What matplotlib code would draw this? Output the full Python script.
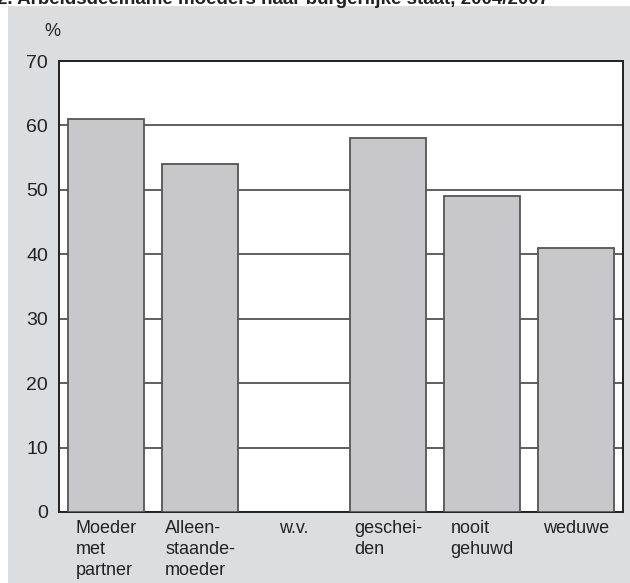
import matplotlib.pyplot as plt
import numpy as np
from matplotlib.patches import Rectangle

# Arbeidsdeelname moeders naar burgerlijke staat
categories = ['Moeder\nmet\npartner', 'Alleen-\nstaande-\nmoeder', 'w.v.',
              'geschei-\nden', 'nooit\ngehuwd', 'weduwe']
values = [61, 54, np.nan, 58, 49, 41]
yticks = [0, 10, 20, 30, 40, 50, 60, 70]

plt.rcParams['font.family'] = ['Liberation Sans', 'DejaVu Sans']

fig = plt.figure(figsize=(6.3, 5.83), dpi=100)
fig.patch.set_facecolor('white')

# grijze achtergrond
fig.patches.append(Rectangle((8 / 630, 0), 1, 1 - 6 / 583, transform=fig.transFigure,
                             facecolor='#dcdddf', edgecolor='none', zorder=-5))

fig.text(-0.005, 1 - 4 / 583, '2. Arbeidsdeelname moeders naar burgerlijke staat, 2004/2007',
         fontsize=13.5, fontweight='bold', color='#222222', va='baseline', ha='left')

ax = fig.add_axes([59 / 630, 1 - 512 / 583, 564 / 630, 451 / 583])
ax.set_zorder(2)
ax.set_facecolor('white')

x = np.arange(len(categories))
ax.bar(x, values, width=0.81, color='#c8c8ca', edgecolor='#555555', linewidth=1.3, zorder=3)

ax.set_xlim(-0.5, len(categories) - 0.5)
ax.set_ylim(0, 70)
ax.set_yticks(yticks)
ax.yaxis.grid(True, color='#444444', linewidth=1.2, zorder=1)
ax.set_axisbelow(True)

ax.set_xticks(x)
ax.set_xticklabels(categories, fontsize=13, color='#222222', linespacing=1.28)
for lbl in ax.get_xticklabels():
    lbl.set_multialignment('left')
ax.tick_params(axis='both', length=0, colors='#222222')
ax.tick_params(axis='y', pad=8, labelsize=14)
ax.tick_params(axis='x', pad=6)

for side in ['left', 'bottom', 'top', 'right']:
    ax.spines[side].set_color('#222222')
    ax.spines[side].set_linewidth(1.4)

fig.text(52 / 630, 1 - 31 / 583, '%', fontsize=13, color='#222222', ha='center', va='center')

fig.savefig('out.png', dpi=100)
